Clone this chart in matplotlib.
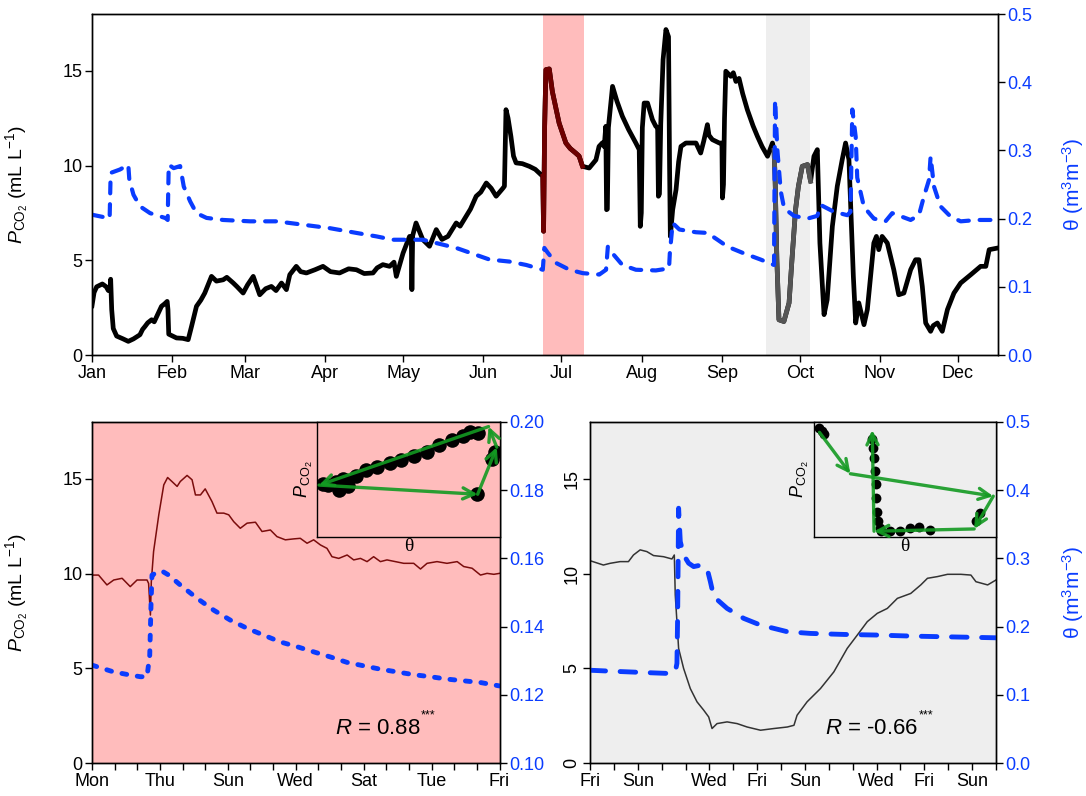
import numpy as np
import matplotlib
matplotlib.use('Agg')
import matplotlib.pyplot as plt
from matplotlib.ticker import FormatStrFormatter

plt.rcParams['font.family'] = ['Liberation Sans', 'DejaVu Sans']
plt.rcParams['mathtext.fontset'] = 'custom'
plt.rcParams['mathtext.rm'] = 'Liberation Sans'
plt.rcParams['mathtext.it'] = 'Liberation Sans:italic'
plt.rcParams['mathtext.bf'] = 'Liberation Sans:bold'

BLUE = '#0a3cff'
GREEN = '#139a22'
PINK = '#ffbcbc'
LGRAY = '#eeeeee'

# ---- whole year (day of year, Jan 1 = 0) ----
months = ['Jan', 'Feb', 'Mar', 'Apr', 'May', 'Jun', 'Jul', 'Aug', 'Sep', 'Oct', 'Nov', 'Dec']
month_start = [0, 31, 59, 90, 120, 151, 181, 212, 243, 273, 304, 334]

year_day = [0, 0.8, 1.8, 4, 5.5, 6.3, 7.0, 7.2, 7.6, 8.2, 9.5, 12, 14, 16, 18.5, 19.5, 20.4, 21.5, 23, 24,
            25, 26.8, 28, 29, 29.3, 29.6, 32.6, 35, 37.1, 38.4, 40.3, 42, 43.5, 46.1, 48, 50.6, 52, 54.5, 56,
            58.3, 60, 62.2, 64.7, 67, 69.2, 71, 73.1, 75, 76.3, 78.8, 80.5, 82.7, 86, 89.1, 92, 95.5, 99, 102,
            105, 108.4, 110, 112.2, 114.8, 116.5, 117.4, 120, 122.5, 123.2, 123.4, 123.7, 125, 127.6, 130.2,
            132.8, 135, 137.3, 140.5, 142, 144.3, 146, 148.2, 150, 152.1, 154, 155.9, 158.5, 159.1, 159.7,
            160.5, 161.6, 162.6, 163.6, 166, 168.7, 171, 173.9, 174.2, 174.6, 175.1, 176.4, 177.6, 179, 180.2,
            182.8, 184.5, 186.6, 187.9, 189.2, 191.8, 194.4, 195.6, 196.9, 197.6, 198.2, 198.5, 198.8, 199.2,
            200.8, 202.5, 204.6, 207, 209.8, 211.1, 211.5, 211.9, 212.3, 213, 214.3, 216.2, 217.5, 218.2,
            218.5, 218.9, 219.4, 220.3, 221.4, 222.4, 222.8, 223.1, 224, 225.3, 226.3, 227.2, 229.1, 233,
            234.8, 236, 237.4, 238, 239.3, 242, 243, 243.2, 243.6, 244, 244.5, 246.4, 247.4, 248.4, 249.6,
            251, 252.8, 255, 256.7, 258.5, 260.6, 262.5, 263.1, 263.5, 264.2, 265, 266.9, 268.9, 270, 271.4,
            272.5, 274, 276, 277.2, 278.5, 279.8, 280.8, 282.4, 283.6, 285.6, 287.5, 289.4, 290.7, 292,
            293.7, 294.6, 295.8, 297.8, 299.1, 301.6, 302.6, 303.5, 304.8, 306.8, 309.3, 311.2, 313.2, 315.8,
            317.7, 319, 320.3, 321.6, 323.5, 324.5, 326.1, 328, 330, 332.5, 335.1, 339, 342.8, 344.8, 346.1,
            349.5]
pco2_year = [2.6, 3.3, 3.6, 3.75, 3.6, 3.4, 3.5, 4.0, 2.4, 1.4, 1.0, 0.85, 0.72, 0.85, 1.07, 1.35, 1.5, 1.7,
             1.86, 1.75, 2.04, 2.57, 2.7, 2.83, 2.4, 1.1, 0.9, 0.88, 0.81, 1.51, 2.57, 2.9, 3.27, 4.15, 3.9,
             3.97, 4.1, 3.8, 3.6, 3.27, 3.7, 4.15, 3.18, 3.5, 3.62, 3.4, 3.8, 3.45, 4.24, 4.68, 4.4, 4.33, 4.5,
             4.68, 4.4, 4.33, 4.55, 4.5, 4.3, 4.33, 4.6, 4.77, 4.68, 4.9, 4.15, 5.38, 6.26, 6.0, 3.45, 6.3,
             6.97, 6.09, 5.74, 6.62, 6.1, 6.26, 6.97, 6.8, 7.32, 7.7, 8.38, 8.6, 9.08, 8.8, 8.38, 8.8, 8.91,
             12.95, 12.5, 11.54, 10.5, 10.14, 10.1, 9.96, 9.8, 9.43, 6.53, 12.0, 15.06, 15.1, 13.9, 13.0,
             12.24, 11.19, 10.9, 10.66, 10.5, 9.96, 9.87, 10.3, 11.01, 11.2, 11.0, 12.07, 7.67, 7.7, 12.0,
             14.18, 13.4, 12.6, 11.9, 11.19, 10.84, 6.79, 7.5, 12.0, 13.3, 13.3, 12.42, 12.07, 12.0, 8.38,
             8.5, 12.2, 15.59, 17.18, 16.8, 10.0, 6.26, 7.67, 8.73, 10.2, 11.01, 11.19, 11.19, 10.66, 11.3,
             12.16, 11.6, 11.37, 11.19, 11.19, 8.29, 9.0, 12.5, 14.98, 14.71, 14.9, 14.44, 14.6, 13.8, 12.95,
             12.1, 11.54, 11.0, 10.49, 11.19, 10.8, 9.43, 5.0, 1.86, 1.77, 2.75, 5.0, 7.67, 8.9, 9.96, 10.05,
             9.17, 10.49, 10.84, 5.91, 2.13, 2.92, 6.79, 8.91, 10.31, 11.19, 10.31, 4.15, 1.69, 2.75, 1.6,
             2.4, 5.91, 6.26, 5.56, 6.26, 5.91, 4.5, 3.18, 3.27, 4.5, 5.03, 5.03, 3.62, 1.69, 1.25, 1.55,
             1.69, 1.25, 2.4, 3.27, 3.8, 4.24, 4.68, 4.68, 5.56, 5.65]

theta_day = [0, 6.3, 6.8, 7.2, 10.8, 14, 14.4, 16, 18.5, 22.4, 28.3, 29.2, 29.6, 31.5, 34, 35.4, 37.9, 40.3,
             44.2, 50.6, 61, 71.3, 81.5, 91.7, 102, 109.6, 116.1, 127.6, 140.5, 153.3, 161, 167.5, 173.9,
             174.5, 175.8, 179, 184.2, 189.3, 195.7, 198.3, 199, 200.8, 204.6, 209.8, 217.5, 222.6, 222.9,
             224, 226.6, 233, 237.4, 241.3, 245.1, 251.5, 257.9, 263.1, 263.5, 264.4, 265.7, 267, 270.8, 276,
             279.8, 281.1, 286.2, 291.4, 292.6, 293.3, 294.6, 295.2, 297.8, 301.6, 306.1, 308.7, 315.8, 319,
             320.9, 322.9, 323.5, 324.8, 327.3, 331.2, 335.1, 341.5, 349.5]
theta_year = [0.2057, 0.2008, 0.200, 0.267, 0.272, 0.279, 0.257, 0.235, 0.218, 0.208, 0.2008, 0.198, 0.279,
              0.274, 0.277, 0.247, 0.225, 0.208, 0.201, 0.198, 0.196, 0.196, 0.191, 0.186, 0.179, 0.174,
              0.169, 0.169, 0.157, 0.140, 0.137, 0.132, 0.125, 0.157, 0.150, 0.135, 0.125, 0.120, 0.118,
              0.125, 0.159, 0.149, 0.132, 0.125, 0.124, 0.127, 0.149, 0.1935, 0.184, 0.180, 0.179, 0.169,
              0.159, 0.149, 0.140, 0.132, 0.374, 0.30, 0.24, 0.215, 0.204, 0.200, 0.204, 0.22, 0.210, 0.205,
              0.21, 0.36, 0.32, 0.26, 0.217, 0.200, 0.196, 0.208, 0.198, 0.205, 0.232, 0.257, 0.291, 0.247,
              0.218, 0.203, 0.196, 0.198, 0.198]

red_span = (173.9, 189.7)
gray_span = (260.1, 276.8)

# ---- summer event (days from Monday) ----
red_ticklabels = ['Mon', 'Thu', 'Sun', 'Wed', 'Sat', 'Tue', 'Fri']
red_day = [0, 0.29, 0.66, 0.96, 1.33, 1.69, 1.99, 2.43, 2.5, 2.58, 2.62, 2.72, 2.95, 3.17, 3.34, 3.53, 3.76,
           3.9, 4.2, 4.42, 4.57, 4.79, 5.0, 5.3, 5.52, 5.82, 6.04, 6.26, 6.55, 6.85, 7.22, 7.51, 7.88, 8.17,
           8.54, 8.91, 9.2, 9.5, 9.79, 10.09, 10.38, 10.6, 10.9, 11.27, 11.56, 11.86, 12.15, 12.44, 12.74,
           13.03, 13.4, 13.77, 14.21, 14.51, 14.8, 15.24, 15.68, 16.13, 16.42, 16.79, 17.16, 17.45, 17.75, 18.0]
red_pco2 = [9.92, 9.92, 9.4, 9.66, 9.75, 9.31, 9.66, 9.66, 9.48, 7.81, 9.57, 11.16, 13.1, 14.68, 15.07, 14.86,
            14.6, 14.86, 15.18, 14.95, 14.15, 14.15, 14.47, 13.8, 13.19, 13.19, 13.1, 12.74, 12.39, 12.66,
            12.71, 12.22, 12.3, 11.95, 11.78, 11.83, 11.86, 11.6, 11.78, 11.51, 11.33, 10.89, 10.8, 10.98,
            10.72, 10.8, 10.63, 10.89, 10.63, 10.72, 10.63, 10.54, 10.54, 10.24, 10.54, 10.63, 10.54, 10.63,
            10.37, 10.28, 9.92, 10.01, 9.96, 10.01]
red_theta_day = [0, 0.96, 1.69, 2.14, 2.43, 2.55, 2.61, 2.65, 2.87, 3.09, 3.39, 3.9, 4.64, 5.38, 6.11, 6.85,
                 7.58, 8.32, 9.06, 9.79, 10.53, 11.27, 12.0, 12.74, 13.48, 14.21, 14.95, 15.68, 16.42, 17.16, 18.0]
red_theta = [0.1287, 0.1267, 0.1258, 0.1253, 0.1253, 0.1316, 0.1473, 0.1551, 0.1559, 0.1563, 0.1551, 0.1522,
             0.1483, 0.1448, 0.1419, 0.1395, 0.1375, 0.1355, 0.1341, 0.1326, 0.1311, 0.1295, 0.1285, 0.1275,
             0.1267, 0.1259, 0.1253, 0.1246, 0.1241, 0.1236, 0.1226]
red_r = 0.88

# hysteresis inset (scaled theta / PCO2)
red_loop_theta = [0.03, 0.06, 0.10, 0.14, 0.12, 0.17, 0.21, 0.27, 0.33, 0.40, 0.46, 0.53, 0.60, 0.67, 0.74,
                  0.80, 0.84, 0.88, 0.975, 0.96, 0.875]
red_loop_pco2 = [0.46, 0.45, 0.48, 0.50, 0.41, 0.44, 0.53, 0.58, 0.61, 0.64, 0.67, 0.70, 0.74, 0.80, 0.84,
                 0.88, 0.91, 0.90, 0.74, 0.68, 0.37]
red_arrow_theta = [0.01, 0.88, 0.985, 0.94, 0.01]
red_arrow_pco2 = [0.45, 0.37, 0.78, 0.96, 0.45]

# ---- autumn event (days from Friday) ----
gray_tickpos = [0, 2, 5, 7, 9, 12, 14, 16]
gray_ticklabels = ['Fri', 'Sun', 'Wed', 'Fri', 'Sun', 'Wed', 'Fri', 'Sun']
gray_day = [0, 0.56, 0.84, 1.26, 1.61, 1.82, 2.1, 2.38, 2.66, 3.08, 3.43, 3.53, 3.57, 3.64, 3.71, 3.92, 4.2,
            4.48, 4.76, 4.97, 5.11, 5.32, 5.74, 6.16, 6.58, 7.14, 7.7, 8.26, 8.54, 8.67, 9.09, 9.65, 10.21,
            10.77, 11.19, 11.61, 12.03, 12.45, 12.87, 13.43, 13.85, 14.13, 14.55, 14.97, 15.53, 15.95, 16.16,
            16.65, 17.0]
gray_pco2 = [10.68, 10.45, 10.54, 10.63, 10.63, 10.98, 11.25, 11.16, 10.95, 10.89, 10.77, 10.98, 8.87, 7.46,
             6.05, 4.99, 3.93, 3.23, 2.79, 2.43, 1.82, 2.08, 2.17, 2.08, 1.9, 1.73, 1.82, 1.9, 1.99, 2.52,
             3.23, 3.93, 4.81, 6.05, 6.75, 7.46, 7.9, 8.16, 8.69, 8.95, 9.4, 9.75, 9.84, 9.96, 9.96, 9.92,
             9.57, 9.4, 9.66]
gray_theta_day = [0, 0.84, 2.24, 3.36, 3.57, 3.64, 3.67, 3.71, 3.78, 3.92, 4.13, 4.34, 4.62, 4.9, 5.04, 5.18,
                  5.74, 6.44, 7.14, 7.7, 8.26, 9.23, 10.63, 12.03, 13.43, 14.83, 17.0]
gray_theta = [0.136, 0.1347, 0.1327, 0.1312, 0.1337, 0.146, 0.217, 0.3736, 0.3247, 0.305, 0.293, 0.288, 0.290,
              0.2855, 0.266, 0.244, 0.2267, 0.212, 0.2022, 0.1974, 0.1925, 0.19, 0.1885, 0.1876, 0.1861,
              0.1851, 0.1836]
gray_r = -0.66

gray_loop_theta = [0.03, 0.045, 0.055, 0.32, 0.325, 0.33, 0.335, 0.34, 0.343, 0.347, 0.352, 0.36, 0.37,
                   0.42, 0.475, 0.53, 0.576, 0.64, 0.89, 0.91]
gray_loop_pco2 = [0.95, 0.92, 0.90, 0.85, 0.77, 0.69, 0.57, 0.46, 0.34, 0.22, 0.14, 0.08, 0.05, 0.05, 0.055,
                  0.075, 0.085, 0.065, 0.14, 0.21]
gray_arrow_theta = [0.03, 0.20, 0.985, 0.88, 0.33, 0.32]
gray_arrow_pco2 = [0.91, 0.55, 0.355, 0.07, 0.05, 0.93]

W, H = 1086, 796


def px_rect(l, t, r, b):
    return [l / W, 1 - b / H, (r - l) / W, (b - t) / H]


def style_ticks(ax):
    ax.tick_params(direction='out', length=5, width=1.0, labelsize=13, pad=2)
    for s in ax.spines.values():
        s.set_linewidth(1.0)


def r_text(ax, x, r):
    # correlation coefficient with small significance stars
    t = ax.text(x, 0.102, r'$R$ = %.2f' % r, transform=ax.transAxes,
                fontsize=16, va='center', ha='left')
    ax.annotate('***', xy=(1.0, 0.82), xycoords=t, fontsize=9, va='bottom', ha='left')


pco2_label = r'$P_{\mathrm{CO}_2}$ (mL L$^{-1}$)'
theta_label = r'θ (m$^3$m$^{-3}$)'

fig = plt.figure(figsize=(W / 100, H / 100), dpi=100)

# ---------- top: full record ----------
ax1 = fig.add_axes(px_rect(92, 14, 998, 355))
ax1.axvspan(*red_span, color=PINK, lw=0, zorder=0)
ax1.axvspan(*gray_span, color=LGRAY, lw=0, zorder=0)
d = np.array(year_day)
p = np.array(pco2_year)
ax1.plot(d, p, color='k', lw=3.4, solid_joinstyle='round')
m = (d >= red_span[0]) & (d <= red_span[1])
ax1.plot(d[m], p[m], color='#6e0000', lw=3.4, solid_joinstyle='round')
m = (d >= gray_span[0] + 3) & (d <= gray_span[1] + 0.5)
ax1.plot(d[m], p[m], color='#555555', lw=3.4, solid_joinstyle='round')
ax1.set_xlim(0, 349.5)
ax1.set_ylim(0, 18)
ax1.set_xticks(month_start)
ax1.set_xticklabels(months)
ax1.set_yticks([0, 5, 10, 15])
ax1.set_ylabel(pco2_label, fontsize=14)
ax1.yaxis.set_label_coords(-0.068, 0.5)
style_ticks(ax1)

ax1b = ax1.twinx()
ax1b.plot(theta_day, theta_year, color=BLUE, lw=3, dashes=(2.6, 2.6), dash_capstyle='round')
ax1b.set_ylim(0, 0.5)
ax1b.set_yticks([0.0, 0.1, 0.2, 0.3, 0.4, 0.5])
ax1b.yaxis.set_major_formatter(FormatStrFormatter('%.1f'))
ax1b.set_ylabel(theta_label, fontsize=15, color=BLUE)
ax1b.yaxis.set_label_coords(1.068, 0.5)
style_ticks(ax1b)
ax1b.tick_params(axis='y', labelcolor=BLUE)

# ---------- bottom left: summer event ----------
ax2 = fig.add_axes(px_rect(92, 422, 499.5, 763))
ax2.set_facecolor(PINK)
ax2.plot(red_day, red_pco2, color='#7a0c0c', lw=1.1)
ax2.set_xlim(0, 18)
ax2.set_ylim(0, 18)
ax2.set_xticks(range(19))
ax2.set_xticklabels([red_ticklabels[i // 3] if i % 3 == 0 else '' for i in range(19)])
ax2.set_yticks([0, 5, 10, 15])
ax2.set_ylabel(pco2_label, fontsize=14)
ax2.yaxis.set_label_coords(-0.152, 0.5)
style_ticks(ax2)
r_text(ax2, 0.597, red_r)

ax2b = ax2.twinx()
ax2b.plot(red_theta_day, red_theta, color=BLUE, lw=3.5, dashes=(1.0, 2.2), dash_capstyle='round')
ax2b.set_ylim(0.10, 0.20)
ax2b.set_yticks([0.10, 0.12, 0.14, 0.16, 0.18, 0.20])
ax2b.yaxis.set_major_formatter(FormatStrFormatter('%.2f'))
style_ticks(ax2b)
ax2b.tick_params(axis='y', labelcolor=BLUE)

# ---------- bottom right: autumn event ----------
ax3 = fig.add_axes(px_rect(590, 422, 996, 763))
ax3.set_facecolor(LGRAY)
ax3.plot(gray_day, gray_pco2, color='#333333', lw=1.1)
ax3.set_xlim(0, 17)
ax3.set_ylim(0, 18)
ax3.set_xticks(range(18))
ax3.set_xticklabels([gray_ticklabels[gray_tickpos.index(i)] if i in gray_tickpos else '' for i in range(18)])
ax3.set_yticks([0, 5, 10, 15])
style_ticks(ax3)
ax3.tick_params(axis='y', labelrotation=90)
for lab in ax3.get_yticklabels():
    lab.set_va('center')
r_text(ax3, 0.579, gray_r)

ax3b = ax3.twinx()
ax3b.plot(gray_theta_day, gray_theta, color=BLUE, lw=3.5, dashes=(3.2, 3.0), dash_capstyle='round')
ax3b.set_ylim(0, 0.5)
ax3b.set_yticks([0.0, 0.1, 0.2, 0.3, 0.4, 0.5])
ax3b.yaxis.set_major_formatter(FormatStrFormatter('%.1f'))
ax3b.set_ylabel(theta_label, fontsize=15, color=BLUE)
ax3b.yaxis.set_label_coords(1.158, 0.5)
style_ticks(ax3b)
ax3b.tick_params(axis='y', labelcolor=BLUE)


# ---------- hysteresis insets ----------
def loop_inset(rect, face, lx, ly, ax_, ay_, dot_size):
    ins = fig.add_axes(rect)
    ins.set_facecolor(face)
    ins.set_xlim(0, 1)
    ins.set_ylim(0, 1)
    ins.set_xticks([])
    ins.set_yticks([])
    ins.scatter(lx, ly, s=dot_size, c='k', zorder=2, linewidths=0)
    for i in range(len(ax_) - 1):
        ins.annotate('', xy=(ax_[i + 1], ay_[i + 1]), xytext=(ax_[i], ay_[i]),
                     arrowprops=dict(arrowstyle='->,head_length=0.8,head_width=0.4',
                                     color=GREEN, lw=2.4, alpha=0.9, shrinkA=0, shrinkB=0),
                     zorder=3, annotation_clip=False)
    ins.set_ylabel(r'$P_{\mathrm{CO}_2}$', fontsize=13, labelpad=2)
    ins.set_xlabel('θ', fontsize=14, family='Liberation Serif', labelpad=1)
    for s in ins.spines.values():
        s.set_linewidth(1.0)
    return ins


loop_inset(px_rect(317.3, 422, 499.5, 536.7), PINK, red_loop_theta, red_loop_pco2,
           red_arrow_theta, red_arrow_pco2, 110)
loop_inset(px_rect(814, 422, 996, 537), LGRAY, gray_loop_theta, gray_loop_pco2,
           gray_arrow_theta, gray_arrow_pco2, 50)

fig.savefig('out.png', dpi=100)
